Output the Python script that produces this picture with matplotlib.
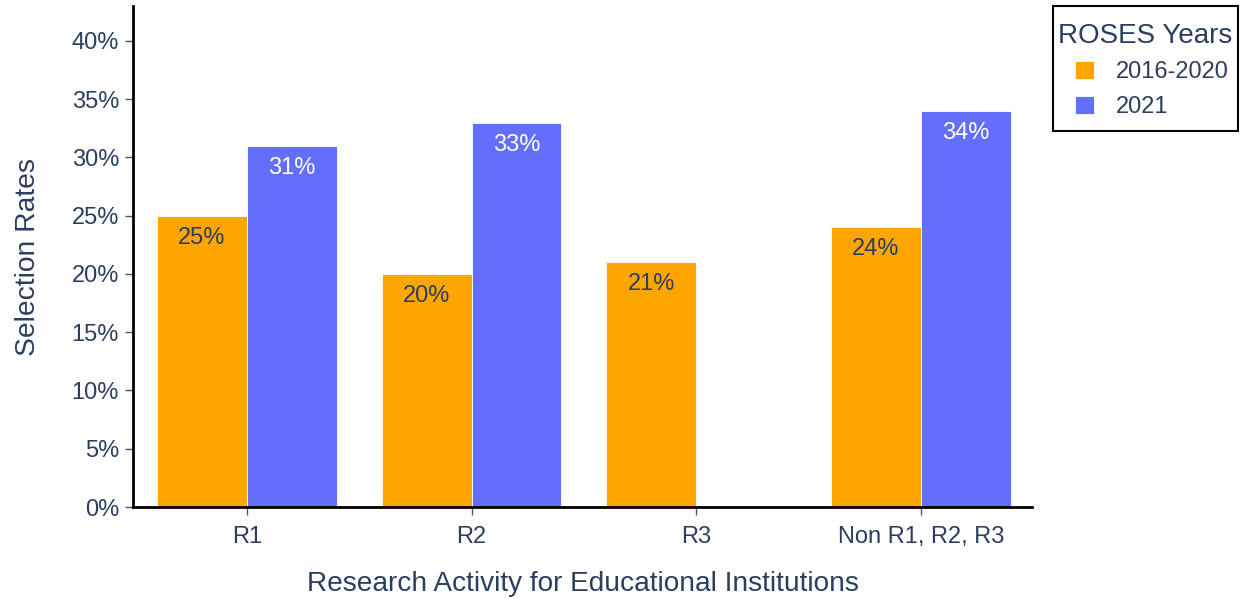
import matplotlib
matplotlib.use("Agg")
import matplotlib.pyplot as plt
import numpy as np
from matplotlib.ticker import FuncFormatter, MultipleLocator
from matplotlib.patches import Rectangle

categories = ["R1", "R2", "R3", "Non R1, R2, R3"]
series_names = ["2016-2020", "2021"]
rates_2016_2020 = [0.25, 0.20, 0.21, 0.24]
rates_2021 = [0.31, 0.33, np.nan, 0.34]

colors = ["#FFA500", "#636EFA"]
label_colors = ["#2a3f5f", "white"]
text_color = "#2a3f5f"

plt.rcParams["font.family"] = ["Liberation Sans", "DejaVu Sans"]

W, H = 1240, 599
fig = plt.figure(figsize=(W/100, H/100), dpi=100)
ax = fig.add_axes([133/W, 1-507/H, (1032-133)/W, (507-6)/H])

x = np.arange(len(categories))
w = 0.4
for i, (vals, name) in enumerate(zip([rates_2016_2020, rates_2021], series_names)):
    offs = x + (i - 0.5) * w
    ax.bar(offs, vals, width=w, color=colors[i], edgecolor="white",
           linewidth=0.6, label=name, zorder=2)
    for xi, v in zip(offs, vals):
        if np.isnan(v):
            continue
        ax.annotate(f"{round(v*100):d}%", xy=(xi, v), xytext=(0, -8),
                    textcoords="offset points", ha="center", va="top",
                    fontsize=17, color=label_colors[i], zorder=3)

ax.set_xlim(-0.507, 3.494)
ax.set_ylim(0, 0.43)
ax.yaxis.set_major_locator(MultipleLocator(0.05))
ax.yaxis.set_major_formatter(FuncFormatter(lambda v, p: f"{round(v*100):d}%"))
ax.set_xticks(x)
ax.set_xticklabels(categories)

for s in ["top", "right"]:
    ax.spines[s].set_visible(False)
for s in ["left", "bottom"]:
    ax.spines[s].set_linewidth(2)
    ax.spines[s].set_color("black")

ax.tick_params(axis="both", which="major", direction="out", length=6, width=1,
               color="#555555", labelsize=17, labelcolor=text_color, pad=4)
ax.tick_params(axis="x", pad=8)

ax.set_ylabel("Selection Rates", fontsize=20.3, color=text_color, labelpad=22)
ax.set_xlabel("Research Activity for Educational Institutions", fontsize=20.2,
              color=text_color, labelpad=16)

# Legend: frame, title, entries
fig.add_artist(Rectangle((1053/W, 1-131/H), (1238-1053)/W, (131-6)/H,
                         transform=fig.transFigure, fill=False,
                         edgecolor="black", linewidth=1.5))
fig.text(1145/W, 1-36/H, "ROSES Years", ha="center", va="center",
         fontsize=20, color=text_color)
leg = fig.legend(loc="upper left", bbox_to_anchor=(1075/W, 1-61/H),
                 fontsize=17, frameon=False,
                 handlelength=0.8, handleheight=0.8, handletextpad=0.95,
                 borderpad=0, labelspacing=0.53, borderaxespad=0)
for t in leg.get_texts():
    t.set_color(text_color)

fig.savefig("out.png", dpi=100)
